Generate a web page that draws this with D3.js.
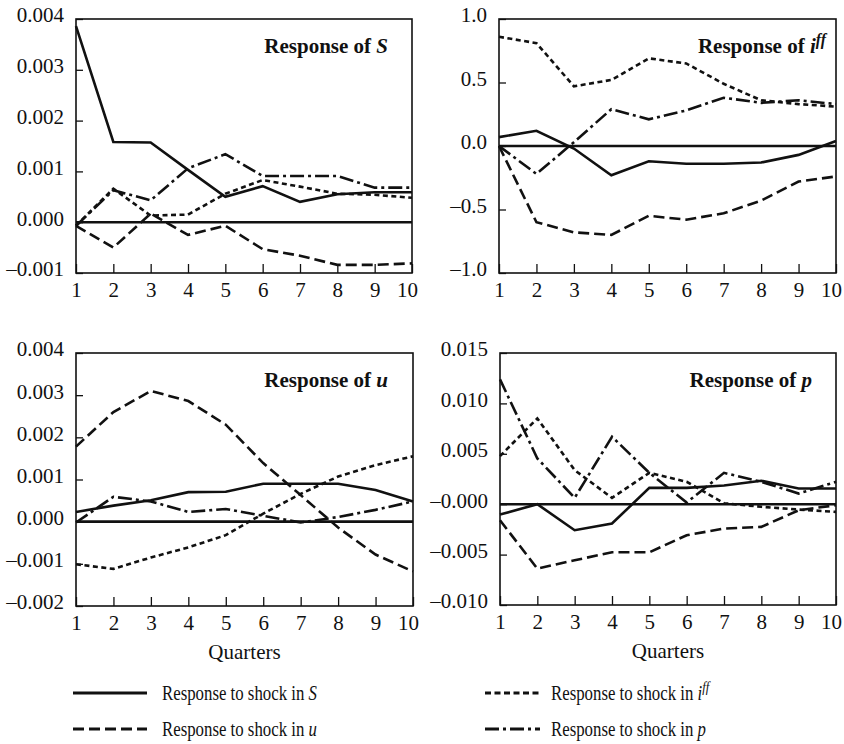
<!DOCTYPE html>
<html>
<head>
<meta charset="utf-8">
<script src="https://cdn.jsdelivr.net/npm/d3@7"></script>
<style>
body { margin: 0; background: #fff; }
svg text { font-family: "Liberation Serif", "Times New Roman", serif; fill: #111; }
</style>
</head>
<body>
<script>
// quarters on the x axis
var quarters = [1, 2, 3, 4, 5, 6, 7, 8, 9, 10]

// Response of S  (shock in S, iff, u, p)
var sToS = [0.00386, 0.00158, 0.00157, 0.00103, 0.00050, 0.00071, 0.00040, 0.00055, 0.00059, 0.00059]
var sToI = [-0.00007, 0.00066, 0.00013, 0.00015, 0.00056, 0.00083, 0.00070, 0.00056, 0.00054, 0.00048]
var sToU = [-0.00007, -0.00050, 0.00017, -0.00025, -0.00007, -0.00053, -0.00066, -0.00084, -0.00084, -0.00081]
var sToP = [-0.00007, 0.00063, 0.00043, 0.00106, 0.00134, 0.00091, 0.00091, 0.00091, 0.00068, 0.00068]

// Response of iff
var iToS = [0.07, 0.12, -0.02, -0.23, -0.12, -0.14, -0.14, -0.13, -0.07, 0.04]
var iToI = [0.86, 0.81, 0.47, 0.52, 0.69, 0.65, 0.49, 0.36, 0.33, 0.31]
var iToU = [0.0, -0.60, -0.68, -0.70, -0.55, -0.58, -0.53, -0.43, -0.28, -0.24]
var iToP = [0.0, -0.22, 0.03, 0.29, 0.21, 0.28, 0.38, 0.34, 0.36, 0.33]

// Response of u
var uToS = [0.00023, 0.00038, 0.00051, 0.00070, 0.00071, 0.00090, 0.00090, 0.00090, 0.00075, 0.00048]
var uToI = [-0.00101, -0.00112, -0.00085, -0.00061, -0.00032, 0.00019, 0.00066, 0.00107, 0.00134, 0.00155]
var uToU = [0.00178, 0.00260, 0.00310, 0.00286, 0.00230, 0.00139, 0.00063, -0.00014, -0.00078, -0.00118]
var uToP = [-0.00002, 0.00059, 0.00048, 0.00023, 0.00030, 0.00014, -0.00002, 0.00011, 0.00028, 0.00048]

// Response of p
var pToS = [-0.00103, 0.0, -0.00258, -0.00192, 0.00162, 0.00162, 0.00185, 0.00232, 0.00156, 0.00156]
var pToI = [0.00477, 0.00851, 0.00338, 0.00063, 0.00311, 0.00222, 0.0001, -0.00026, -0.00053, -0.00076]
var pToU = [-0.00159, -0.00639, -0.00556, -0.00477, -0.00477, -0.00308, -0.00242, -0.00225, -0.0006, -0.0001]
var pToP = [0.01238, 0.00454, 0.00063, 0.00669, 0.00311, 0.00017, 0.00311, 0.00222, 0.00106, 0.00222]

// y tick values and their printed labels
var ticksS = [-0.001, 0, 0.001, 0.002, 0.003, 0.004]
var labelsS = ["\u20130.001", "0.000", "0.001", "0.002", "0.003", "0.004"]
var ticksI = [-1, -0.5, 0, 0.5, 1]
var labelsI = ["\u20131.0", "\u20130.5", "0.0", "0.5", "1.0"]
var ticksU = [-0.002, -0.001, 0, 0.001, 0.002, 0.003, 0.004]
var labelsU = ["\u20130.002", "\u20130.001", "0.000", "0.001", "0.002", "0.003", "0.004"]
var ticksP = [-0.010, -0.005, 0, 0.005, 0.010, 0.015]
var labelsP = ["\u20130.010", "\u20130.005", "\u20130.000", "0.005", "0.010", "0.015"]

// legend entries
var shocks = ["S", "iff", "u", "p"]

//Estilos de línea por shock
var dashes = {
    S: null,
    iff: "5,3.5",
    u: "11,5",
    p: "14,4,3,4"
}
var legendDashes = {
    S: null,
    iff: "6,3.5",
    u: "11,5",
    p: "14,4,3,4"
}

var width = 844
var height = 744

var svg = d3.select("body")
    .append("svg")
    .attr("width", width)
    .attr("height", height)

//Paneles
var panels = [
    {left: 76, right: 412, top: 19, bottom: 273, name: "S", series: [sToS, sToI, sToU, sToP],
     ticks: ticksS, labels: labelsS, titleX: 388, xlabel: false},
    {left: 499, right: 836, top: 19, bottom: 273, name: "iff", series: [iToS, iToI, iToU, iToP],
     ticks: ticksI, labels: labelsI, titleX: 826, xlabel: false},
    {left: 76, right: 413, top: 353, bottom: 606, name: "u", series: [uToS, uToI, uToU, uToP],
     ticks: ticksU, labels: labelsU, titleX: 388, xlabel: true},
    {left: 500, right: 836, top: 353, bottom: 605, name: "p", series: [pToS, pToI, pToU, pToP],
     ticks: ticksP, labels: labelsP, titleX: 812, xlabel: true}
]

function varName(sel, name, size) {
    if (name == "iff") {
        sel.append("tspan").attr("font-style", "italic").text("i")
        sel.append("tspan").attr("font-style", "italic")
            .attr("font-size", size * 0.75)
            .attr("dy", -size * 0.4)
            .text("ff")
    } else {
        sel.append("tspan").attr("font-style", "italic").text(name)
    }
}

panels.forEach(function (p) {
    var g = svg.append("g")

    var x = d3.scaleLinear()
        .domain([1, 10])
        .range([p.left, p.right])

    var y = d3.scaleLinear()
        .domain([p.ticks[0], p.ticks[p.ticks.length - 1]])
        .range([p.bottom, p.top])

    //Eje Y (marcas hacia dentro)
    var ejeY = d3.axisLeft(y)
        .tickValues(p.ticks)
        .tickFormat(function (d, i) { return p.labels[i] })
        .tickSizeInner(-7)
        .tickSizeOuter(0)
        .tickPadding(12)

    var gy = g.append("g")
        .attr("transform", "translate(" + p.left + ",0)")
        .call(ejeY)
    gy.select(".domain").remove()
    gy.selectAll("line").attr("stroke", "#111").attr("stroke-width", 1.3)
    gy.selectAll("text")
        .attr("font-size", 21)
        .attr("dy", "0.14em")

    //Eje X
    var ejeX = d3.axisBottom(x)
        .tickValues(quarters)
        .tickFormat(d3.format("d"))
        .tickSizeInner(-9)
        .tickSizeOuter(0)
        .tickPadding(9)

    var gx = g.append("g")
        .attr("transform", "translate(0," + p.bottom + ")")
        .call(ejeX)
    gx.select(".domain").remove()
    gx.selectAll("line").attr("stroke", "#111").attr("stroke-width", 1.3)
    gx.selectAll("text")
        .attr("font-size", 21)
        .attr("dx", function (d) { return d == 10 ? -5 : 0 })

    //Línea de cero
    g.append("line")
        .attr("x1", p.left)
        .attr("x2", p.right)
        .attr("y1", y(0))
        .attr("y2", y(0))
        .attr("stroke", "#111")
        .attr("stroke-width", 2.6)

    //Series
    var linea = d3.line()
        .x(function (d, i) { return x(quarters[i]) })
        .y(function (d) { return y(d) })

    p.series.forEach(function (s, k) {
        g.append("path")
            .attr("d", linea(s))
            .attr("fill", "none")
            .attr("stroke", "#111")
            .attr("stroke-width", 2.6)
            .attr("stroke-dasharray", dashes[shocks[k]])
    })

    //Marco
    g.append("rect")
        .attr("x", p.left)
        .attr("y", p.top)
        .attr("width", p.right - p.left)
        .attr("height", p.bottom - p.top)
        .attr("fill", "none")
        .attr("stroke", "#111")
        .attr("stroke-width", 1.6)

    //Título
    var t = g.append("text")
        .attr("x", p.titleX)
        .attr("y", p.top + 34)
        .attr("text-anchor", "end")
        .attr("font-size", 21)
        .attr("font-weight", "bold")
        .text("Response of ")
    varName(t, p.name, 21)

    if (p.xlabel) {
        g.append("text")
            .attr("x", (p.left + p.right) / 2)
            .attr("y", p.bottom + 53)
            .attr("text-anchor", "middle")
            .attr("font-size", 21)
            .text("Quarters")
    }
})

//Leyenda
var legendPos = [
    {x1: 73, x2: 147, tx: 162, y: 693},
    {x1: 485, x2: 540, tx: 551, y: 693},
    {x1: 73, x2: 147, tx: 162, y: 729},
    {x1: 485, x2: 540, tx: 551, y: 729}
]

shocks.forEach(function (s, i) {
    var lp = legendPos[i]
    svg.append("line")
        .attr("x1", lp.x1)
        .attr("x2", lp.x2)
        .attr("y1", lp.y)
        .attr("y2", lp.y)
        .attr("stroke", "#111")
        .attr("stroke-width", 2.8)
        .attr("stroke-dasharray", legendDashes[s])

    // texto algo condensado, como en el original
    var t = svg.append("g")
        .attr("transform", "translate(" + lp.tx + "," + (lp.y + 7) + ") scale(0.82,1)")
        .append("text")
        .attr("font-size", 20.5)
        .text("Response to shock in ")
    varName(t, s, 20.5)
})
</script>
</body>
</html>
